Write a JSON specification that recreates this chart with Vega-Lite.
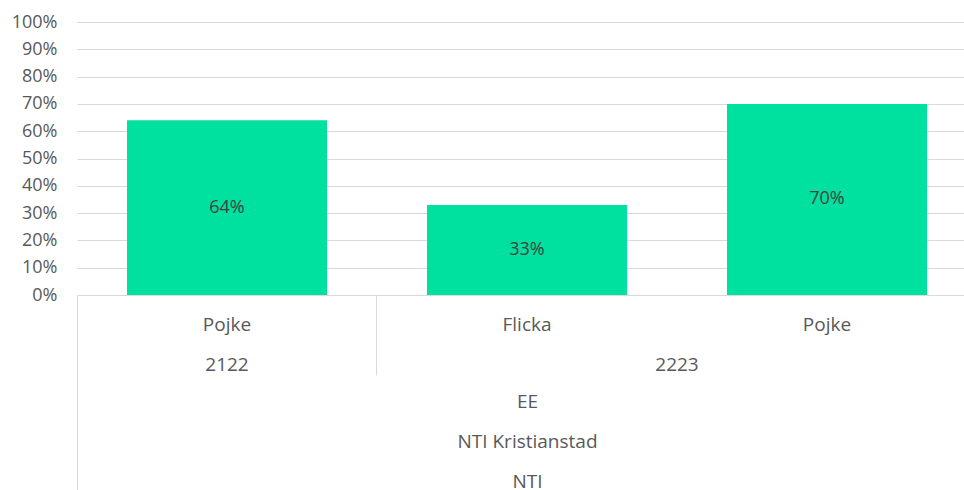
{
  "$schema": "https://vega.github.io/schema/vega-lite/v6.json",
  "width": 887,
  "height": 273,
  "autosize": {"type": "none"},
  "padding": {"left": 77, "top": 22, "right": 0, "bottom": 195},
  "config": {"view": {"stroke": null}, "font": "Open Sans"},
  "data": {
    "values": [
      {"key": "2122|Pojke", "year": "2122", "gender": "Pojke", "value": 0.64},
      {"key": "2223|Flicka", "year": "2223", "gender": "Flicka", "value": 0.33},
      {"key": "2223|Pojke", "year": "2223", "gender": "Pojke", "value": 0.70}
    ]
  },
  "resolve": {"axis": {"x": "independent"}, "scale": {"y": "independent"}},
  "layer": [
    {
      "mark": {"type": "bar", "color": "#00E09F"},
      "encoding": {
        "x": {
          "field": "key", "type": "nominal", "sort": null,
          "scale": {"range": [0, 900], "paddingInner": 0.33333, "paddingOuter": 0.16667},
          "axis": {
            "orient": "bottom", "title": null, "labelAngle": 0,
            "labelExpr": "split(datum.value,'|')[1]",
            "ticks": false, "domain": true, "domainColor": "#d9d9d9", "domainWidth": 1,
            "grid": false, "labelPadding": 29, "labelBaseline": "middle",
            "labelFontSize": 19, "labelColor": "#595959"
          }
        },
        "y": {
          "field": "value", "type": "quantitative",
          "scale": {"domain": [0, 1], "nice": false},
          "axis": {
            "title": null, "format": ".0%", "values": [0, 0.1, 0.2, 0.3, 0.4, 0.5, 0.6, 0.7, 0.8, 0.9, 1],
            "domain": false, "ticks": false, "labelPadding": 20,
            "labelFontSize": 18, "labelColor": "#595959",
            "gridColor": "#d9d9d9", "gridWidth": 1
          }
        }
      }
    },
    {
      "mark": {"type": "text", "color": "#404040", "fontSize": 18, "baseline": "middle"},
      "encoding": {
        "x": {"field": "key", "type": "nominal", "sort": null, "axis": null},
        "y": {"field": "value", "type": "quantitative", "scale": {"domain": [0, 2], "nice": false}, "axis": null},
        "text": {"field": "value", "type": "quantitative", "format": ".0%"}
      }
    },
    {
      "mark": {"type": "rule", "opacity": 0},
      "encoding": {
        "x": {
          "field": "key", "type": "nominal", "sort": null,
          "axis": {
            "orient": "bottom", "title": null, "values": ["2122|Pojke"],
            "labelExpr": "split(datum.value,'|')[0]", "labelAngle": 0,
            "ticks": false, "domain": false, "grid": false,
            "labelPadding": 69, "labelBaseline": "middle", "labelFontSize": 19, "labelColor": "#595959"
          }
        }
      }
    },
    {
      "mark": {"type": "rule", "opacity": 0},
      "encoding": {
        "x": {
          "field": "key", "type": "nominal", "sort": null,
          "axis": {
            "orient": "bottom", "title": null, "values": ["2223|Pojke"], "labelOffset": -150,
            "labelExpr": "split(datum.value,'|')[0]", "labelAngle": 0,
            "ticks": false, "domain": false, "grid": false,
            "labelPadding": 69, "labelBaseline": "middle", "labelFontSize": 19, "labelColor": "#595959"
          }
        }
      }
    },
    {
      "mark": {"type": "rule", "opacity": 0},
      "encoding": {
        "x": {
          "field": "key", "type": "nominal", "sort": null,
          "axis": {
            "orient": "bottom", "title": null, "values": ["2223|Flicka"], "bandPosition": -0.25,
            "labels": false, "ticks": true, "tickSize": 80, "tickColor": "#d9d9d9", "tickWidth": 1,
            "domain": false, "grid": false
          }
        }
      }
    },
    {
      "mark": {"type": "rule", "opacity": 0},
      "encoding": {
        "x": {
          "field": "key", "type": "nominal", "sort": null,
          "axis": {
            "orient": "bottom", "values": ["2122|Pojke"], "bandPosition": -0.25,
            "labels": false, "ticks": true, "tickSize": 195, "tickColor": "#d9d9d9", "tickWidth": 1,
            "domain": false, "grid": false,
            "title": ["EE", "NTI Kristianstad", "NTI"],
            "titleX": 450, "titleY": 97, "titleBaseline": "top", "titleAlign": "center",
            "titleLineHeight": 40, "titleFontSize": 19, "titleFontWeight": "normal", "titleColor": "#595959"
          }
        }
      }
    }
  ]
}
